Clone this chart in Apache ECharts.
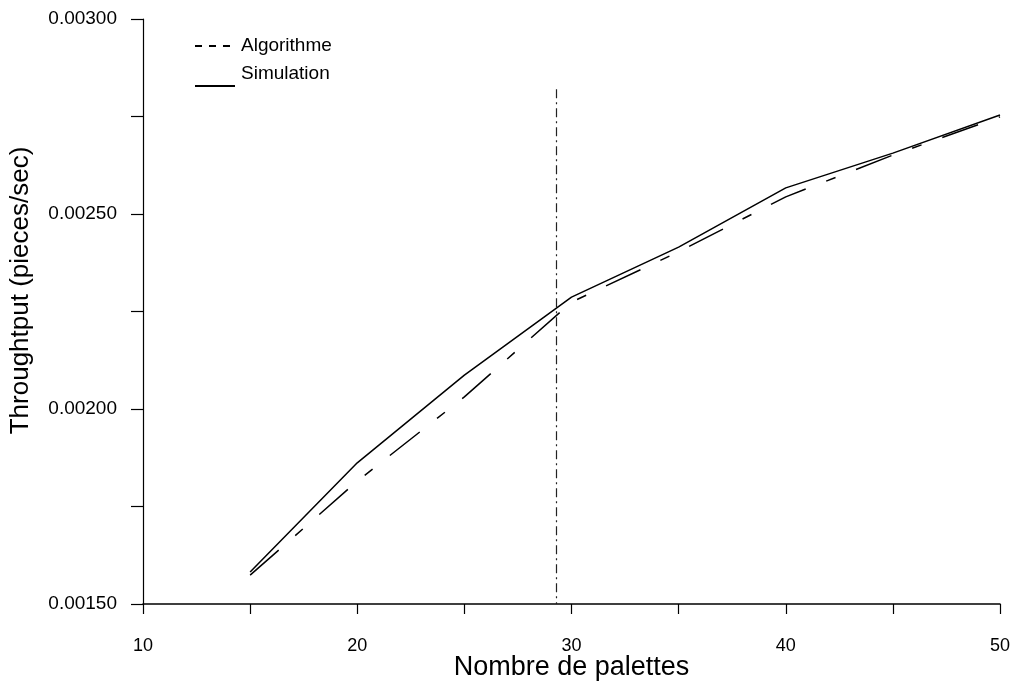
<!DOCTYPE html>
<html>
<head>
<meta charset="utf-8">
<script src="https://cdn.jsdelivr.net/npm/echarts@6/dist/echarts.min.js"></script>
<style>
  html, body { margin: 0; padding: 0; background: #fff; }
  #chart { width: 1023px; height: 687px; }
</style>
</head>
<body>
<div id="chart"></div>
<script>
const palettes = [15, 20, 25, 30, 35, 40, 45, 50];
const algorithme = [0.001574, 0.001815, 0.002031, 0.002274, 0.002403, 0.002544, 0.002651, 0.002749];
const simulation = [0.001582, 0.001862, 0.002087, 0.002287, 0.002415, 0.002567, 0.002656, 0.002754];
const markerX = 29.3;
const markerTop = 0.00282;

const chart = echarts.init(document.getElementById('chart'));

const font = 'Liberation Sans, Arial, sans-serif';

var option = {
  animation: false,
  backgroundColor: '#fff',
  grid: {
    left: 143,
    right: 23,
    top: 19,
    bottom: 83,
    outerBoundsMode: 'none'
  },
  legend: {
    orient: 'vertical',
    left: 190,
    top: 28,
    itemWidth: 42,
    itemHeight: 26,
    itemGap: 2,
    textStyle: { fontFamily: font, fontSize: 19, color: '#000' },
    data: [
      {
        name: 'Algorithme',
        icon: 'path://M0,0 L0.01,0 L0.01,0.01 Z M40,26 L40.01,26 L40.01,26.01 Z ' +
          'M0,12 L7,12 L7,14 L0,14 Z M14,12 L21,12 L21,14 L14,14 Z M28,12 L35,12 L35,14 L28,14 Z',
        itemStyle: { color: '#000' }
      },
      {
        name: 'Simulation',
        icon: 'path://M0,0 L0.01,0 L0.01,0.01 Z M0,24 L40,24 L40,26 L0,26 Z',
        itemStyle: { color: '#000' }
      }
    ]
  },
  xAxis: {
    type: 'value',
    min: 10,
    max: 50,
    interval: 5,
    name: 'Nombre de palettes',
    nameLocation: 'middle',
    nameGap: 50,
    nameMoveOverlap: false,
    nameTextStyle: { fontFamily: font, fontSize: 27, color: '#000' },
    axisLine: { lineStyle: { color: '#000', width: 1.5 } },
    axisTick: { length: 10, lineStyle: { color: '#000', width: 1.2 } },
    axisLabel: {
      margin: 33,
      fontFamily: font,
      fontSize: 18,
      color: '#000',
      formatter: function (v) { return v % 10 === 0 ? String(v) : ''; }
    },
    splitLine: { show: false }
  },
  yAxis: {
    type: 'value',
    min: 0.0015,
    max: 0.003,
    interval: 0.00025,
    name: 'Throughtput (pieces/sec)',
    nameLocation: 'middle',
    nameGap: 109,
    nameMoveOverlap: false,
    nameTextStyle: { fontFamily: font, fontSize: 26, color: '#000', padding: [0, 0, 0, 42] },
    axisLine: { show: true, lineStyle: { color: '#000', width: 1.2 } },
    axisTick: { length: 12, lineStyle: { color: '#000', width: 1.2 } },
    axisLabel: {
      margin: 26,
      fontFamily: font,
      fontSize: 19,
      color: '#000',
      formatter: function (v) {
        const k = Math.round(v / 0.00025);
        return k % 2 === 0 ? v.toFixed(5) : '';
      }
    },
    splitLine: { show: false }
  },
  series: [
    {
      name: 'Algorithme',
      type: 'line',
      symbol: 'none',
      data: palettes.map((x, i) => [x, algorithme[i]]),
      lineStyle: { color: '#000', width: 1.5, type: [38, 22, 10, 22] },
      markLine: {
        silent: true,
        symbol: 'none',
        label: { show: false },
        lineStyle: { color: '#222', width: 1.2, type: [9, 4, 2, 4] },
        data: [[{ coord: [markerX, markerTop] }, { coord: [markerX, 0.0015] }]]
      }
    },
    {
      name: 'Simulation',
      type: 'line',
      symbol: 'none',
      data: palettes.map((x, i) => [x, simulation[i]]),
      lineStyle: { color: '#000', width: 1.5 }
    }
  ]
};

chart.setOption(option);
window.addEventListener('resize', chart.resize);
</script>
</body>
</html>
